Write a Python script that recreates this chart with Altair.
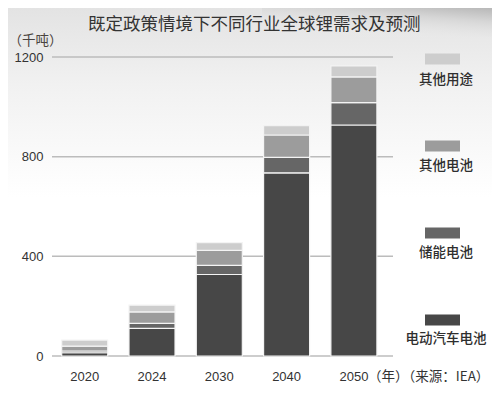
import altair as alt
import pandas as pd

# ---- data ----
years = ["2020", "2024", "2030", "2040", "2050"]
ev_battery = [13, 111, 327, 735, 927]        # 电动汽车电池
storage_battery = [7, 20, 37, 62, 90]        # 储能电池
other_battery = [20, 46, 60, 90, 103]        # 其他电池
other_use = [24, 27, 31, 37, 44]             # 其他用途
categories = ["电动汽车电池", "储能电池", "其他电池", "其他用途"]
legend_order = ["其他用途", "其他电池", "储能电池", "电动汽车电池"]
colors = ["#474747", "#666666", "#9c9c9c", "#cdcdcd"]
y_ticks = [0, 400, 800, 1200]

series = [ev_battery, storage_battery, other_battery, other_use]
rows = []
for ci, (cat, vals) in enumerate(zip(categories, series)):
    for yr, v in zip(years, vals):
        rows.append({"year": yr, "category": cat, "value": v, "order": ci})
df = pd.DataFrame(rows)

W, H = 342, 299
FONT = "Liberation Sans, Noto Sans CJK SC, sans-serif"
CJK = "Noto Sans CJK SC, sans-serif"

color_scale = alt.Scale(domain=categories, range=colors)

# background gradients (decoration)
bg_df = pd.DataFrame({"k": [0]})
bg_top = alt.Chart(bg_df).mark_rect(
    color=alt.LinearGradient(
        gradient="linear",
        stops=[alt.GradientStop(color="#e3e3e3", offset=0),
               alt.GradientStop(color="#f1f1f1", offset=0.4),
               alt.GradientStop(color="#ffffff", offset=1)],
        x1=0, x2=0, y1=0, y2=1)
).encode(x=alt.value(-44), x2=alt.value(W + 98), y=alt.value(-49), y2=alt.value(140))

bg_swoosh = alt.Chart(bg_df).mark_rect(
    color=alt.LinearGradient(
        gradient="linear",
        stops=[alt.GradientStop(color="#b8b8b8", offset=0),
               alt.GradientStop(color="#d6d6d6", offset=0.35),
               alt.GradientStop(color="rgba(240,240,240,0)", offset=1)],
        x1=1, x2=0.4, y1=0, y2=1)
).encode(x=alt.value(210), x2=alt.value(W + 98), y=alt.value(-49), y2=alt.value(-20))

y_scale = alt.Scale(domain=[0, 1200], nice=False, zero=True)

grid = alt.Chart(pd.DataFrame({"v": y_ticks})).mark_rule(
    color="#bcbcbc", strokeWidth=1.5
).encode(
    y=alt.Y("v:Q", scale=y_scale, axis=None),
    x=alt.value(0),
    x2=alt.value(341),
)

bars = alt.Chart(df).mark_bar(stroke="#f4f4f4", strokeWidth=1.2).encode(
    x=alt.X(
        "year:N",
        sort=years,
        scale=alt.Scale(range=[0, 334.6], paddingInner=0.316, paddingOuter=0.144),
        axis=alt.Axis(
            title=None, domain=False, ticks=False, labelAngle=0, zindex=2,
            labelFontSize=13, labelColor="#333333", labelPadding=14, labelFont=FONT,
        ),
    ),
    y=alt.Y(
        "value:Q",
        stack="zero",
        scale=y_scale,
        axis=alt.Axis(
            values=y_ticks, format="d", grid=False, domain=False, ticks=False, zindex=2,
            labelFontSize=13, labelColor="#333333", labelPadding=9, labelFont=FONT,
            title="（千吨）", titleAngle=0, titleAlign="left", titleBaseline="middle",
            titleX=-44, titleY=-17, titleFontSize=13.5, titleFontWeight="normal",
            titleColor="#4a4440", titleFont=CJK,
        ),
    ),
    color=alt.Color("category:N", scale=color_scale, legend=None),
    order=alt.Order("order:Q", sort="ascending"),
)

leg_df = pd.DataFrame({"category": legend_order})
legend_swatch = alt.Chart(leg_df).mark_tick(
    orient="horizontal", size=35, thickness=11, opacity=1
).encode(
    x=alt.value(390.5),
    y=alt.Y("category:N", sort=legend_order,
            scale=alt.Scale(type="point", domain=legend_order, range=[2, 263], padding=0),
            axis=None),
    color=alt.Color("category:N", scale=color_scale, legend=None),
)
legend_text = alt.Chart(leg_df).mark_text(
    fontSize=13.5, color="#2e2e2e", font=CJK, align="center", baseline="middle",
    fontWeight=500,
).encode(
    x=alt.value(394),
    y=alt.Y("category:N", sort=legend_order,
            scale=alt.Scale(type="point", domain=legend_order, range=[23, 282], padding=0),
            axis=None),
    text="category:N",
)

note = alt.Chart(pd.DataFrame({"t": ["（年）（来源：IEA）"]})).mark_text(
    fontSize=13.5, color="#333333", font=CJK, align="left", baseline="middle"
).encode(x=alt.value(316), y=alt.value(H + 21), text="t:N")

chart = alt.layer(
    bg_top, bg_swoosh, grid, bars, legend_swatch, legend_text, note
).resolve_scale(y="independent", color="shared").properties(
    width=W,
    height=H,
    autosize="none",
    padding={"left": 44, "top": 49, "right": 98, "bottom": 33},
    title=alt.TitleParams(
        "既定政策情境下不同行业全球锂需求及预测",
        fontSize=17.5, fontWeight="normal", color="#333333", font=CJK,
        anchor="start", frame="group", dx=36, offset=-25, zindex=2,
    ),
).configure(font=FONT).configure_view(stroke=None)

chart.save("out.html", embed_options={"renderer": "svg", "actions": False})
